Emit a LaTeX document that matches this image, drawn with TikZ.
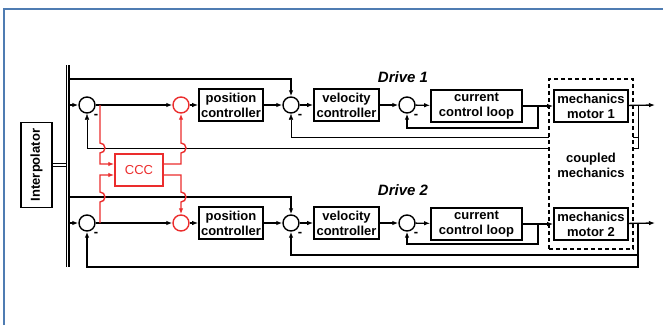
\documentclass[tikz,border=0pt]{standalone}
\usepackage{fontspec}
\setmainfont{Liberation Sans}
\usetikzlibrary{arrows.meta,backgrounds}
\definecolor{ccred}{RGB}{235,45,45}
\definecolor{frameblue}{RGB}{79,124,178}

\begin{document}
\begin{tikzpicture}[
            x=1pt, y=-1pt,
            >={Latex[length=6pt,width=4.5pt]},
            line width=1.3pt,
            block/.style={draw, line width=1.7pt, minimum height=32pt, inner sep=1pt, align=center, font=\fontsize{13}{15}\bfseries\selectfont},
            sum/.style={circle, draw, line width=1.4pt, minimum size=16pt, inner sep=0pt},
            ccsum/.style={sum, draw=ccred},
            minus/.style={label={[font=\fontsize{13}{15}\bfseries\selectfont, inner sep=0pt, label distance=2pt]-55:-}},
            ccline/.style={draw=ccred, line width=1.4pt},
            drivelabel/.style={font=\fontsize{15}{18}\bfseries\itshape\selectfont}
        ]
        \useasboundingbox (0,0) rectangle (663,325);
        \draw[frameblue, line width=1.6pt] (4,325) -- (4,9) -- (663,9);

        % --- Interpolator and bus ---
        \node[block, minimum width=85pt, minimum height=31pt, rotate=90] (ip) at (36.5,165) {Interpolator};
        \coordinate (bustop) at (67.5,65);
        \coordinate (busbot) at (67.5,267);
        \coordinate (busin) at (66,165);
        \draw[double, double distance=1.8pt, line width=1.1pt] (bustop) -- (busbot);
        \draw[double, double distance=1.6pt, line width=1pt] (ip.south) -- (busin);

        % --- Drive 1 ---
        \node[drivelabel] (dl1) at (403,77) {Drive 1};
        \node[sum,minus] (sa1) at (87,105) {};
        \node[ccsum] (cr1) at (181,105) {};
        \node[block,minimum width=64pt] (pc1) at (231,105) {position\\controller};
        \node[sum,minus] (sb1) at (291,105) {};
        \node[block,minimum width=65pt] (vc1) at (346.5,105) {velocity\\controller};
        \node[sum,minus] (sc1) at (407,105) {};
        \node[block,minimum width=91pt] (cl1) at (476.5,106) {current\\control loop};
        \node[block,minimum width=74pt] (mm1) at (591,106) {mechanics\\motor 1};
        \coordinate (in1) at (69,105);
        \coordinate (ref1) at (69,79);
        \coordinate (tp1) at (100,105);
        \coordinate (ci1) at (538,105);
        \coordinate (vo1) at (638,105);
        \coordinate (out1) at (655,105);

        % --- Drive 2 ---
        \node[drivelabel] (dl2) at (403,190) {Drive 2};
        \node[sum,minus] (sa2) at (87,223) {};
        \node[ccsum] (cr2) at (181,223) {};
        \node[block,minimum width=64pt] (pc2) at (231,223) {position\\controller};
        \node[sum,minus] (sb2) at (291,223) {};
        \node[block,minimum width=65pt] (vc2) at (346.5,223) {velocity\\controller};
        \node[sum,minus] (sc2) at (407,223) {};
        \node[block,minimum width=91pt] (cl2) at (476.5,224) {current\\control loop};
        \node[block,minimum width=74pt] (mm2) at (591,224) {mechanics\\motor 2};
        \coordinate (in2) at (69,223);
        \coordinate (ref2) at (69,197);
        \coordinate (tp2) at (100,223);
        \coordinate (ci2) at (538,223);
        \coordinate (vo2) at (638,223);
        \coordinate (out2) at (655,223);

        % --- Coupled mechanics (behind the feedback lines of drive 1) ---
        \begin{scope}[on background layer]
            \draw[->] (vo1) -- ++(0,32) -| (sb1);
            \draw[->] (vo1) -- ++(0,43) -| (sa1);
            \node[draw, line width=1.1pt, dash pattern=on 4pt off 3pt, fill=white, minimum width=84pt, minimum height=170pt] (mech) at (591,164) {};
        \end{scope}
        \node[align=center, font=\fontsize{13}{15}\bfseries\selectfont] (cm) at (591,165) {coupled\\mechanics};

        % --- Forward paths ---
        \draw[->] (in1) -- (sa1);
        \draw[->] (sa1) -- (cr1);
        \draw[->] (cr1) -- (pc1);
        \draw[->] (pc1) -- (sb1);
        \draw[->] (sb1) -- (vc1);
        \draw[->] (vc1) -- (sc1);
        \draw[->] (sc1) -- (cl1);
        \draw[->] (cl1) -- (mm1);
        \draw[->] (mm1) -- (out1);
        \draw[->] (ref1) -| (sb1);
        \draw[->] (ci1) -- ++(0,23) -| (sc1);

        \draw[->] (in2) -- (sa2);
        \draw[->] (sa2) -- (cr2);
        \draw[->] (cr2) -- (pc2);
        \draw[->] (pc2) -- (sb2);
        \draw[->] (sb2) -- (vc2);
        \draw[->] (vc2) -- (sc2);
        \draw[->] (sc2) -- (cl2);
        \draw[->] (cl2) -- (mm2);
        \draw[->] (mm2) -- (out2);
        \draw[->] (ref2) -| (sb2);
        \draw[->] (ci2) -- ++(0,21) -| (sc2);
        \draw[->] (vo2) -- ++(0,32) -| (sb2);
        \draw[->] (vo2) -- ++(0,44) -| (sa2);

        % --- Cross coupling compensation ---
        \node[draw=ccred, line width=1.5pt, text=ccred, minimum width=48pt, minimum height=32pt, font=\fontsize{13}{15}\selectfont] (ccc) at (139,170) {CCC};
        \draw[ccline,->] (tp1) -- (100,143) arc[start angle=-90, end angle=90, radius=5] |- ([yshift=6pt]ccc.west);
        \draw[ccline,->] (tp2) -- (100,202) arc[start angle=90, end angle=-90, radius=5] |- ([yshift=-5pt]ccc.west);
        \draw[ccline,->] ([yshift=6pt]ccc.east) -| (181,153) arc[start angle=90, end angle=-90, radius=5] -- (cr1);
        \draw[ccline,->] ([yshift=-5pt]ccc.east) -| (181,192) arc[start angle=-90, end angle=90, radius=5] -- (cr2);
        \end{tikzpicture}
\end{document}
